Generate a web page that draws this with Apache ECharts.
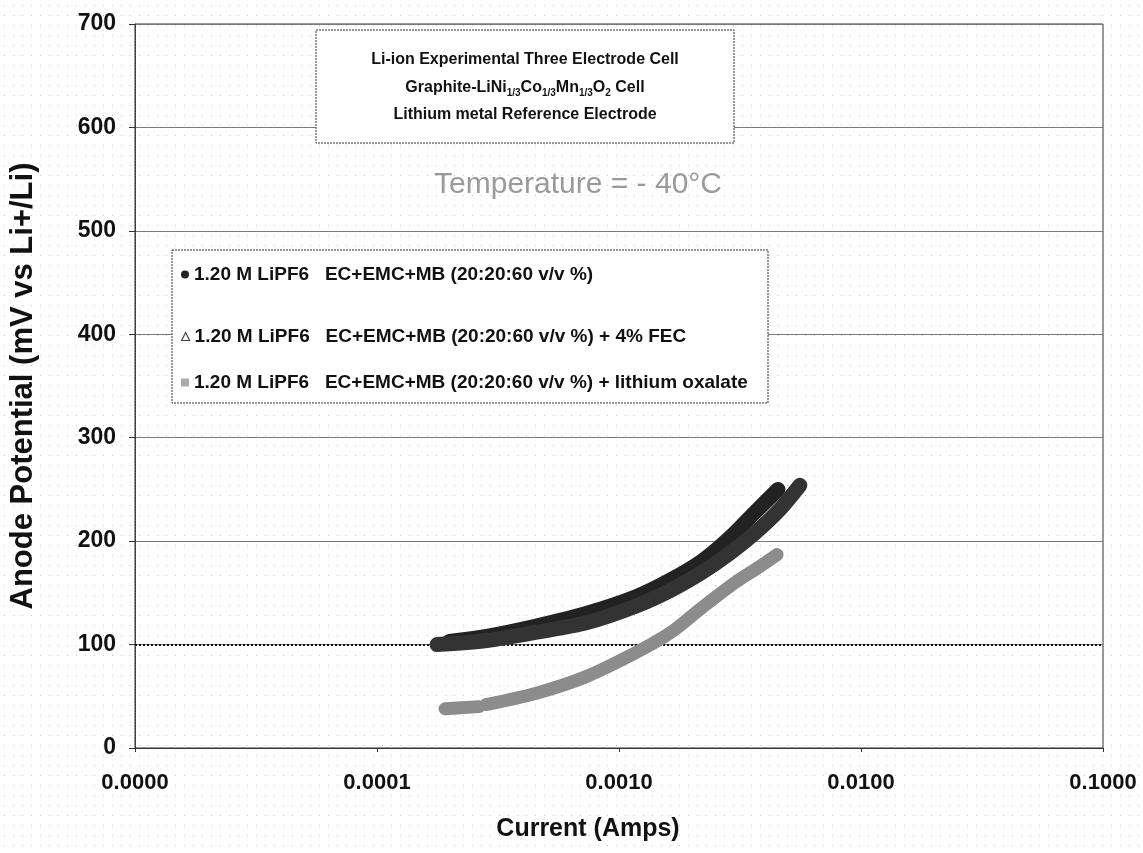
<!DOCTYPE html>
<html>
<head>
<meta charset="utf-8">
<script src="https://cdn.jsdelivr.net/npm/echarts@6/dist/echarts.min.js"></script>
<style>
html, body { margin: 0; padding: 0; background: #fff; }
#chart { width: 1143px; height: 853px; }
</style>
</head>
<body>
<div id="chart"></div>
<script>
// series names (legend text)
var baseName = '1.20 M LiPF6   EC+EMC+MB (20:20:60 v/v %)';
var ecName = baseName;
var fecName = baseName + ' + 4% FEC';
var oxName = baseName + ' + lithium oxalate';

// current (A) / anode potential (mV)
var ecCurrent   = [1.99e-4, 2.84e-4, 4.56e-4, 7.32e-4, 1.17e-3, 1.62e-3, 2.21e-3, 2.86e-3, 3.65e-3, 4.54e-3];
var ecPotential = [103, 108, 118, 130, 146, 162, 181, 203, 228, 250];

var fecCurrent   = [1.77e-4, 2.84e-4, 4.56e-4, 7.32e-4, 1.17e-3, 1.62e-3, 2.21e-3, 2.86e-3, 3.65e-3, 4.59e-3, 5.59e-3];
var fecPotential = [100, 104, 112, 121, 137, 152, 170, 188, 208, 230, 254];

// null = gap in the record
var oxCurrent   = [1.91e-4, 2.64e-4, null, 2.82e-4, 4.56e-4, 7.32e-4, 1.17e-3, 1.62e-3, 2.21e-3, 3.02e-3, 3.79e-3, 4.50e-3];
var oxPotential = [38, 40, null, 42, 53, 69, 92, 111, 136, 160, 175, 187];

var xMin = 0.00001, xMax = 0.1;
var yMin = 0, yMax = 700, yStep = 100;

var font = 'Liberation Sans';

function pairs(xs, ys) {
    var out = [];
    for (var i = 0; i < xs.length; i++) {
        out.push(xs[i] == null ? ['-', '-'] : [xs[i], ys[i]]);
    }
    return out;
}

// faint dotted paper background
var dots = document.createElement('canvas');
dots.width = 9; dots.height = 10;
var dctx = dots.getContext('2d');
dctx.fillStyle = '#c4c4c4';
dctx.fillRect(4, 5, 1, 1);
var paper = { image: dots, repeat: 'repeat' };

var chart = echarts.init(document.getElementById('chart'));

function band(name, xs, ys, color, width) {
    return {
        name: name,
        type: 'line',
        data: pairs(xs, ys),
        smooth: 0.3,
        showSymbol: false,
        symbol: 'none',
        connectNulls: false,
        lineStyle: { color: color, width: width, cap: 'round', join: 'round' },
        itemStyle: { color: color },
        z: 2
    };
}

var legendText = { fontFamily: font, fontSize: 19, fontWeight: 'bold', color: '#111' };

function oneLegend(name, icon, style, top) {
    return {
        left: 181, top: top, padding: 0,
        itemWidth: 8, itemHeight: 8, itemGap: 8,
        textStyle: legendText,
        data: [{ name: name, icon: icon, itemStyle: style }],
        z: 6
    };
}

var ecSeries = band(ecName, ecCurrent, ecPotential, '#222', 15);
ecSeries.markLine = {
    silent: true, symbol: 'none', label: { show: false },
    lineStyle: { color: '#111', type: [2, 2], width: 2 },
    data: [{ yAxis: 100 }],
    z: 1
};

var option = {
    backgroundColor: paper,
    animation: false,
    grid: {
        left: 129, right: 40, top: 24, bottom: 105,
        show: true, borderColor: '#333', borderWidth: 1, backgroundColor: 'transparent'
    },
    xAxis: {
        type: 'log', logBase: 10, min: xMin, max: xMax,
        axisLine: { show: true, lineStyle: { color: '#333', width: 1 } },
        axisTick: { show: true, length: 4, lineStyle: { color: '#333' } },
        minorTick: { show: false },
        splitLine: { show: false },
        axisLabel: {
            margin: 24, fontFamily: font, fontSize: 22, fontWeight: 'bold', color: '#111',
            formatter: function (v) { return v.toFixed(4); }
        }
    },
    yAxis: {
        type: 'value', min: yMin, max: yMax, interval: yStep,
        name: 'Anode Potential (mV vs Li+/Li)', nameLocation: 'middle', nameGap: 96,
        nameTextStyle: { fontFamily: font, fontSize: 31, fontWeight: 'bold', color: '#111' },
        axisLine: { show: true, lineStyle: { color: '#333', width: 1, type: [2, 1] } },
        axisTick: { show: true, length: 6, lineStyle: { color: '#333' } },
        splitLine: { show: true, lineStyle: { color: '#7a7a7a', width: 1 } },
        axisLabel: { margin: 19, fontFamily: font, fontSize: 23, fontWeight: 'bold', color: '#111' }
    },
    legend: [
        oneLegend(ecName, 'circle', { color: '#222' }, 265),
        oneLegend(fecName, 'triangle', { color: '#fff', borderColor: '#444', borderWidth: 1.2 }, 327),
        oneLegend(oxName, 'rect', { color: '#aaa' }, 373)
    ],
    graphic: [
        {
            type: 'rect', z: 3,
            shape: { x: 316, y: 30, width: 418, height: 113 },
            style: { fill: '#fff', stroke: '#333', lineWidth: 1, lineDash: [2, 1] }
        },
        {
            type: 'text', z: 4, x: 525, y: 60,
            style: { text: 'Li-ion Experimental Three Electrode Cell', align: 'center', verticalAlign: 'middle',
                     font: 'bold 16px "Liberation Sans"', fill: '#111' }
        },
        {
            type: 'text', z: 4, x: 525, y: 88,
            style: {
                text: '{b|Graphite-LiNi}{s|1/3}{b|Co}{s|1/3}{b|Mn}{s|1/3}{b|O}{s|2}{b| Cell}',
                align: 'center', verticalAlign: 'middle', fill: '#111',
                rich: {
                    b: { fontFamily: font, fontSize: 16, fontWeight: 'bold', lineHeight: 20, verticalAlign: 'middle' },
                    s: { fontFamily: font, fontSize: 10, fontWeight: 'bold', lineHeight: 20, verticalAlign: 'bottom', padding: [7, 0, 0, 0] }
                }
            }
        },
        {
            type: 'text', z: 4, x: 525, y: 115,
            style: { text: 'Lithium metal Reference Electrode', align: 'center', verticalAlign: 'middle',
                     font: 'bold 16px "Liberation Sans"', fill: '#111' }
        },
        {
            type: 'text', z: 4, x: 578, y: 185,
            style: { text: 'Temperature = - 40\u00B0C', align: 'center', verticalAlign: 'middle',
                     font: '30px "Liberation Sans"', fill: '#9a9a9a' }
        },
        {
            type: 'rect', z: 3,
            shape: { x: 172, y: 250, width: 596, height: 153 },
            style: { fill: '#fff', stroke: '#333', lineWidth: 1, lineDash: [2, 1] }
        },
        {
            type: 'text', z: 4, x: 588, y: 829,
            style: { text: 'Current (Amps)', align: 'center', verticalAlign: 'middle',
                     font: 'bold 25px "Liberation Sans"', fill: '#111' }
        }
    ],
    series: [
        ecSeries,
        band(fecName, fecCurrent, fecPotential, '#333', 15),
        band(oxName, oxCurrent, oxPotential, '#8c8c8c', 13)
    ]
};

chart.setOption(option);
window.onresize = chart.resize;
</script>
</body>
</html>
